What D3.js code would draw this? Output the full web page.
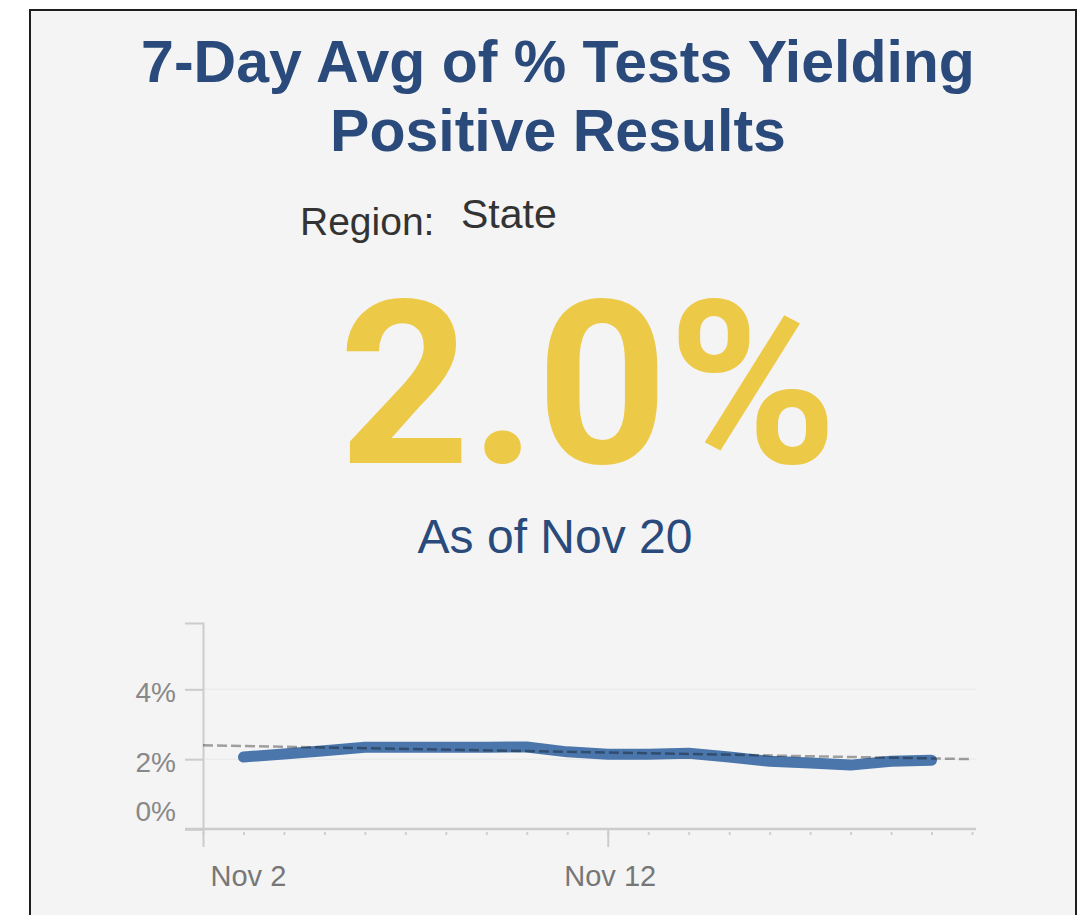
<!DOCTYPE html>
<html>
<head>
<meta charset="utf-8">
<script src="https://cdn.jsdelivr.net/npm/d3@7"></script>
<style>
  body { margin: 0; background: #ffffff; }
  svg { display: block; font-family: "Liberation Sans", Arial, sans-serif; }
</style>
</head>
<body>
<svg class="chart" width="1080" height="915"></svg>
<script>
// daily 7-day average of % positive tests, Nov 3 - Nov 20
var dates = ["2020-11-03","2020-11-04","2020-11-05","2020-11-06","2020-11-07","2020-11-08",
             "2020-11-09","2020-11-10","2020-11-11","2020-11-12","2020-11-13","2020-11-14",
             "2020-11-15","2020-11-16","2020-11-17","2020-11-18","2020-11-19","2020-11-20"];
var pct_positive = [2.06, 2.15, 2.24, 2.34, 2.34, 2.34, 2.34, 2.35, 2.21, 2.14, 2.14, 2.17,
                    2.06, 1.94, 1.89, 1.83, 1.94, 1.97];
// dashed trend line ends
var trend_dates = ["2020-11-02", "2020-11-21"];
var trend_values = [2.40, 2.00];
var x_domain = ["2020-11-02", "2020-11-21"];
var y_domain = [0, 5.9];
var y_ticks = [0, 2, 4];
var x_label_dates = ["2020-11-02", "2020-11-12"];
var x_labels = ["Nov 2", "Nov 12"];

var title_lines = ["7-Day Avg of % Tests Yielding", "Positive Results"];
var latest_value = "2.0%";
var as_of = "As of Nov 20";

var parse = d3.timeParse("%Y-%m-%d");
var svg = d3.select(".chart");

// card
svg.append("rect")
    .attr("x", 30).attr("y", 10)
    .attr("width", 1046).attr("height", 930)
    .attr("fill", "#f4f4f4")
    .attr("stroke", "#1e1e1e")
    .attr("stroke-width", 2);

svg.selectAll(".title")
    .data(title_lines)
  .enter().append("text")
    .attr("class", "title")
    .attr("x", 558)
    .attr("y", function(d, i) { return 82 + i * 69; })
    .attr("text-anchor", "middle")
    .attr("font-size", 59)
    .attr("font-weight", "bold")
    .attr("fill", "#2a4a7b")
    .text(function(d) { return d; });

svg.append("text")
    .attr("x", 300).attr("y", 235)
    .attr("font-size", 39)
    .attr("fill", "#333")
    .text("Region:");
svg.append("text")
    .attr("x", 461).attr("y", 228)
    .attr("font-size", 41)
    .attr("fill", "#333")
    .text("State");

svg.append("text")
    .attr("x", 588).attr("y", 463)
    .attr("text-anchor", "middle")
    .attr("font-family", "Roboto, sans-serif")
    .attr("font-size", 229)
    .attr("font-weight", "bold")
    .attr("fill", "#edc948")
    .text(latest_value);

svg.append("text")
    .attr("x", 555).attr("y", 553)
    .attr("text-anchor", "middle")
    .attr("font-size", 48)
    .attr("fill", "#2a4a7b")
    .text(as_of);

// small chart
var x = d3.scaleTime()
    .domain(x_domain.map(parse))
    .range([203, 972]);

var y = d3.scaleLinear()
    .domain(y_domain)
    .range([829, 623]);

var chart = svg.append("g");

// grid
chart.selectAll(".grid")
    .data(y_ticks.filter(function(d) { return d > 0; }))
  .enter().append("line")
    .attr("x1", 203).attr("x2", 976)
    .attr("y1", function(d) { return y(d); })
    .attr("y2", function(d) { return y(d); })
    .attr("stroke", "#ebebeb")
    .attr("stroke-width", 1.5);

var yAxis = d3.axisLeft(y)
    .tickValues(y_ticks)
    .tickSize(18)
    .tickPadding(9)
    .tickFormat(function(d) { return d + "%"; });

var gy = chart.append("g")
    .attr("transform", "translate(203,0)")
    .call(yAxis);
gy.select(".domain").attr("stroke", "#cccccc").attr("stroke-width", 2);
gy.selectAll(".tick line").attr("stroke", "#cccccc").attr("stroke-width", 2);
gy.selectAll(".tick text")
    .attr("font-size", 28)
    .attr("fill", "#888")
    .attr("font-family", "Liberation Sans, Arial, sans-serif")
    .attr("dy", function(d) { return d == 0 ? "-0.3em" : "0.45em"; });

// x axis: minor day ticks
var xMinor = d3.axisBottom(x)
    .ticks(d3.timeDay.every(1))
    .tickSize(6)
    .tickFormat("");
var gxm = chart.append("g")
    .attr("transform", "translate(0,829)")
    .call(xMinor);
gxm.select(".domain").remove();
gxm.selectAll(".tick line").attr("stroke", "#d0d0d0").attr("stroke-width", 2)
    .attr("y1", 3);

var xAxis = d3.axisBottom(x)
    .tickValues(x_label_dates.map(parse))
    .tickSize(18)
    .tickPadding(18)
    .tickFormat(function(d, i) { return x_labels[i]; });
var gx = chart.append("g")
    .attr("transform", "translate(0,829)")
    .call(xAxis);
gx.select(".domain")
    .attr("d", "M185,0H976")
    .attr("stroke", "#cccccc").attr("stroke-width", 2.5);
gx.selectAll(".tick line").attr("stroke", "#cccccc").attr("stroke-width", 2);
gx.selectAll(".tick text")
    .attr("font-size", 29)
    .attr("fill", "#777")
    .attr("font-family", "Liberation Sans, Arial, sans-serif")
    .attr("text-anchor", function(d, i) { return i == 0 ? "start" : "middle"; })
    .attr("dx", function(d, i) { return i == 0 ? 7 : 2; });

var line = d3.line()
    .x(function(d) { return x(parse(d[0])); })
    .y(function(d) { return y(d[1]); });

chart.append("path")
    .datum(d3.zip(dates, pct_positive))
    .attr("d", line)
    .attr("fill", "none")
    .attr("stroke", "#4a76ab")
    .attr("stroke-width", 11)
    .attr("stroke-linecap", "round")
    .attr("stroke-linejoin", "round");

chart.append("path")
    .datum(d3.zip(trend_dates, trend_values))
    .attr("d", line)
    .attr("fill", "none")
    .attr("stroke", "#000")
    .attr("stroke-opacity", 0.35)
    .attr("stroke-width", 2.5)
    .attr("stroke-dasharray", "10,4");
</script>
</body>
</html>
